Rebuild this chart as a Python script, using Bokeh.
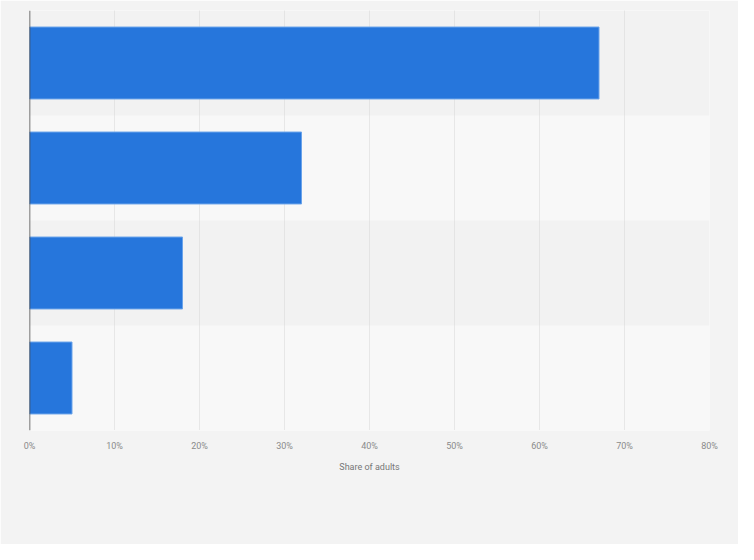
from bokeh.plotting import figure
from bokeh.models import Range1d, FixedTicker, Span, BoxAnnotation, ColumnDataSource
from bokeh.embed import file_html
from bokeh.resources import INLINE

# data
rows = [1, 2, 3, 4]
values = [67, 32, 18, 5]
tick_values = [0, 10, 20, 30, 40, 50, 60, 70, 80]
tick_labels = ["0%", "10%", "20%", "30%", "40%", "50%", "60%", "70%", "80%"]
x_title = "Share of adults"

p = figure(width=738, height=544, output_backend="svg", toolbar_location=None,
           frame_width=680, frame_height=420,
           x_range=Range1d(0, 80), y_range=Range1d(4.5, 0.5),
           min_border_left=29, min_border_top=10, min_border_right=29, min_border_bottom=114)
p.border_fill_color = "#f3f3f3"
p.background_fill_color = "#f8f8f8"
p.outline_line_color = None

# alternating bands
for r in rows:
    if r % 2 == 1:
        p.add_layout(BoxAnnotation(bottom=r - 0.5, top=r + 0.5, fill_color="#f2f2f2",
                                   fill_alpha=1, line_color=None, level="image"))

src = ColumnDataSource(dict(y=rows, v=values))
p.hbar(y="y", right="v", left=0, height=0.685, source=src,
       fill_color="#2676dc", line_color="#6aa3ea", line_width=1)

p.add_layout(Span(location=0, dimension="height", line_color="#444444", line_width=1.5))

p.yaxis.visible = False
p.ygrid.visible = False

p.xgrid.ticker = FixedTicker(ticks=tick_values)
p.xgrid.grid_line_color = "#d6d6d6"
p.xgrid.grid_line_dash = "1 1"
p.xgrid.grid_line_width = 1

ax = p.xaxis[0]
ax.ticker = FixedTicker(ticks=tick_values)
ax.major_label_overrides = {t: l for t, l in zip(tick_values, tick_labels)}
ax.axis_line_color = None
ax.major_tick_line_color = None
ax.minor_tick_line_color = None
ax.major_tick_out = 0
ax.major_tick_in = 0
ax.major_label_standoff = 10
ax.major_label_text_font = "Roboto"
ax.major_label_text_font_size = "9px"
ax.major_label_text_color = "#8a8a8a"
ax.axis_label = x_title
ax.axis_label_text_font = "Roboto"
ax.axis_label_text_font_size = "9px"
ax.axis_label_text_font_style = "normal"
ax.axis_label_text_color = "#777777"
ax.axis_label_standoff = 8

open("out.html", "w").write(file_html(p, INLINE))
